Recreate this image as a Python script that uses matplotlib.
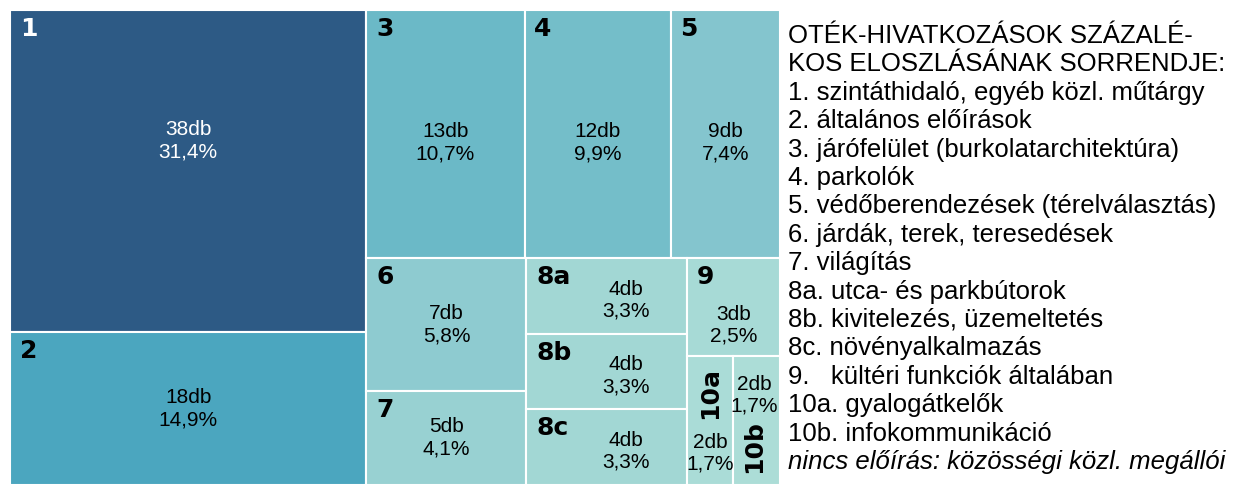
import numpy as np
import matplotlib.pyplot as plt
from matplotlib.patches import Rectangle

# --- adatok ---
labels = ["1", "2", "3", "4", "5", "6", "7", "8a", "8b", "8c", "9", "10a", "10b"]
counts = [38, 18, 13, 12, 9, 7, 5, 4, 4, 4, 3, 2, 2]
colors = ["#2d5a85", "#4ba6bf", "#6bb9c7", "#74bec9", "#84c5ce", "#8ecbd0",
          "#98d1d2", "#a2d7d4", "#a2d7d4", "#a2d7d4", "#a7dad6", "#aadcd7", "#acddd7"]

legend_title = ["OTÉK-HIVATKOZÁSOK SZÁZALÉ-", "KOS ELOSZLÁSÁNAK SORRENDJE:"]
legend_items = [
    "1. szintáthidaló, egyéb közl. műtárgy",
    "2. általános előírások",
    "3. járófelület (burkolatarchitektúra)",
    "4. parkolók",
    "5. védőberendezések (térelválasztás)",
    "6. járdák, terek, teresedések",
    "7. világítás",
    "8a. utca- és parkbútorok",
    "8b. kivitelezés, üzemeltetés",
    "8c. növényalkalmazás",
    "9.   kültéri funkciók általában",
    "10a. gyalogátkelők",
    "10b. infokommunikáció",
]
legend_note = "nincs előírás: közösségi közl. megállói"

# fa szerkezet: "h" = vizszintes osztas, "v" = fuggoleges osztas
tree = ("h", [("v", [0, 1]),
              ("v", [("h", [2, 3, 4]),
                     ("h", [("v", [5, 6]), ("v", [7, 8, 9]),
                            ("v", [10, ("h", [11, 12])])])])])

total = sum(counts)
percents = [f"{c / total * 100:.1f}".replace(".", ",") + "%" for c in counts]


def node_size(n):
    if isinstance(n, int):
        return counts[n]
    return sum(node_size(k) for k in n[1])


def layout(n, x, y, w, h, out):
    if isinstance(n, int):
        out[n] = (x, y, w, h)
        return
    d, kids = n
    tot = node_size(n)
    pos = 0.0
    for k in kids:
        f = node_size(k) / tot
        if d == "h":
            layout(k, x + pos * w, y, f * w, h, out)
        else:
            layout(k, x, y + pos * h, w, f * h, out)
        pos += f


rects = {}
layout(tree, 0, 0, 1, 1, rects)

# ertekek eltolasa (pont)
value_offset = {0: (0, 22), 2: (0, -6), 3: (0, -6), 4: (0, -6),
                7: (14, -3), 8: (14, -3), 9: (14, -3), 10: (0, -13)}

fig = plt.figure(figsize=(12.39, 4.86), dpi=100)
ax = fig.add_axes([10 / 1239, 1 / 486, 770 / 1239, 475 / 486])
ax.set_xlim(0, 1)
ax.set_ylim(1, 0)
ax.axis("off")

num_font = dict(family="DejaVu Sans", fontweight="bold", fontsize=18)
val_font = dict(family="Liberation Sans", fontsize=15, linespacing=1.2)

for i, lab in enumerate(labels):
    x, y, w, h = rects[i]
    ax.add_patch(Rectangle((x, y), w, h, facecolor=colors[i],
                           edgecolor="white", lw=1.5))
    tc = "white" if i == 0 else "black"
    val = f"{counts[i]}db\n{percents[i]}"
    if lab == "10a":
        ax.annotate(lab, (x + w / 2, y), xytext=(0, -8), textcoords="offset points",
                    ha="center", va="top", rotation=90, color=tc, **num_font)
        ax.annotate(val, (x + w / 2, y + h), xytext=(0, 8), textcoords="offset points",
                    ha="center", va="bottom", color=tc, **val_font)
    elif lab == "10b":
        ax.annotate(lab, (x + w / 2, y + h), xytext=(-2, 9), textcoords="offset points",
                    ha="center", va="bottom", rotation=90, color=tc, **num_font)
        ax.annotate(val, (x + w / 2, y), xytext=(-2, -14), textcoords="offset points",
                    ha="center", va="top", color=tc, **val_font)
    else:
        ax.annotate(lab, (x, y), xytext=(7, -5), textcoords="offset points",
                    ha="left", va="top", color=tc, **num_font)
        ax.annotate(val, (x + w / 2, y + h / 2), xytext=value_offset.get(i, (0, 0)),
                    textcoords="offset points", ha="center", va="center",
                    color=tc, **val_font)

# jelmagyarazat szoveg
lines = legend_title + legend_items + [legend_note]
for k, line in enumerate(lines):
    base = 43 + k * 28.4
    style = "italic" if line == legend_note else "normal"
    fig.text(788 / 1239, 1 - base / 486, line, ha="left", va="baseline",
             family="Liberation Sans", fontsize=18.5, style=style, color="black")

fig.savefig("out.png", dpi=100, facecolor="white")
